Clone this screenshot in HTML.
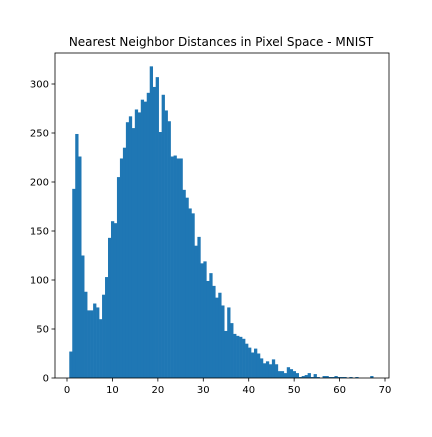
<!DOCTYPE html>
<html><head><meta charset="utf-8"><style>
body{margin:0;background:#fff;}
svg text{font-family:"DejaVu Sans","Liberation Sans",sans-serif;fill:#000;}
</style></head><body>
<svg id="chart" width="432" height="432" viewBox="0 0 432 432" xmlns="http://www.w3.org/2000/svg">
<rect width="432" height="432" fill="#fff"/>
<text x="221" y="46" font-size="12" text-anchor="middle">Nearest Neighbor Distances in Pixel Space - MNIST</text>
<g id="bars"></g>
<g id="axes"></g>
</svg>
<script>
const counts = [27,193,249,226,125,88,69,69,76,72,60,85,103,143,160,158,205,224,235,261,267,255,274,271,284,282,291,318,297,307,251,289,273,262,226,227,224,224,192,184,173,168,135,144,
117,119,99,107,94,82,87,74,48,72,56,45,43,42,40,35,31,26,30,25,20,15,17,14,19,14,7,7,5,11,9,7,5,1,2,3,5,1,4,1,0,2,2,1,1,2,1,1,1,0,1,0,1,0,0,0,0,2];
const binStart = 0.5;
const binEnd = 67.4;
const xTicks = [0,10,20,30,40,50,60,70];
const yTicks = [0,50,100,150,200,250,300];

const L=55,R=389,T=53,B=378;
const xs = v => 67 + v*4.543;
const ys = v => 378 - v*0.98;
const NS='http://www.w3.org/2000/svg';
const bars=document.getElementById('bars'), axes=document.getElementById('axes');
const bw=(binEnd-binStart)/counts.length;
counts.forEach((c,i)=>{
  const x0=xs(binStart+i*bw), x1=xs(binStart+(i+1)*bw);
  const r=document.createElementNS(NS,'rect');
  r.setAttribute('x',x0);r.setAttribute('width',x1-x0+0.3);
  r.setAttribute('y',ys(c));r.setAttribute('height',ys(0)-ys(c));
  r.setAttribute('fill','#1f77b4');
  
  
  bars.appendChild(r);
});
const fr=document.createElementNS(NS,'rect');
fr.setAttribute('x',L);fr.setAttribute('y',T);fr.setAttribute('width',R-L);fr.setAttribute('height',B-T);
fr.setAttribute('fill','none');fr.setAttribute('stroke','#000');fr.setAttribute('stroke-width','0.8');


axes.appendChild(fr);
xTicks.forEach(t=>{
  const x=xs(t);
  const l=document.createElementNS(NS,'line');
  l.setAttribute('x1',x);l.setAttribute('x2',x);l.setAttribute('y1',B);l.setAttribute('y2',B+3.5);l.setAttribute('stroke','#000');l.setAttribute('stroke-width','0.8');
  
  
  axes.appendChild(l);
  const tx=document.createElementNS(NS,'text');
  tx.setAttribute('x',x);tx.setAttribute('y',B+15);tx.setAttribute('font-size','10');tx.setAttribute('text-anchor','middle');
  tx.textContent=t;
  
  
  axes.appendChild(tx);
});
yTicks.forEach(t=>{
  const y=ys(t);
  const l=document.createElementNS(NS,'line');
  l.setAttribute('x1',L-3.5);l.setAttribute('x2',L);l.setAttribute('y1',y);l.setAttribute('y2',y);l.setAttribute('stroke','#000');l.setAttribute('stroke-width','0.8');
  
  
  axes.appendChild(l);
  const tx=document.createElementNS(NS,'text');
  tx.setAttribute('x',L-6);tx.setAttribute('y',y+3.5);tx.setAttribute('font-size','10');tx.setAttribute('text-anchor','end');
  tx.textContent=t;
  
  
  axes.appendChild(tx);
});
</script>
</body></html>
